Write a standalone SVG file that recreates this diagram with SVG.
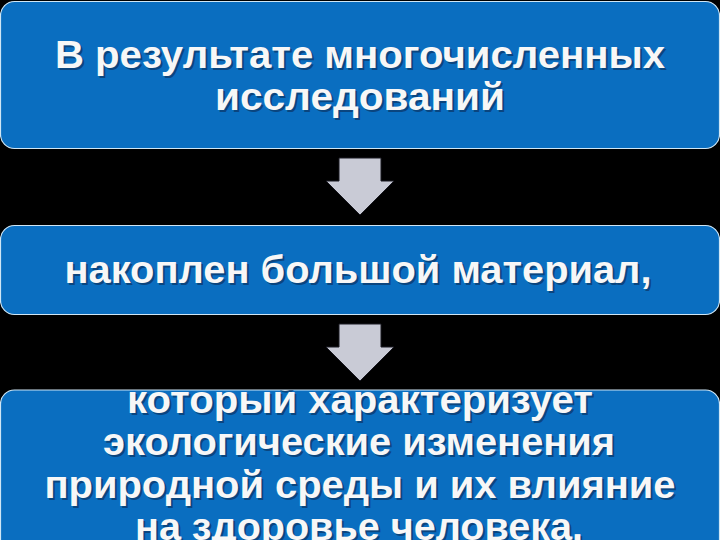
<svg xmlns="http://www.w3.org/2000/svg" width="720" height="540" viewBox="0 0 720 540">
<style>
.box{fill:#0a6ec0;stroke:#cfe6f5;stroke-width:1.2}
.t{font-family:"Liberation Sans",Arial,sans-serif;font-weight:bold;font-size:38px;fill:#f7f7f7;text-anchor:middle}
.sh{font-family:"Liberation Sans",Arial,sans-serif;font-weight:bold;font-size:38px;fill:#0a2a55;text-anchor:middle;opacity:0.6}
.arr{fill:#c9cbd6;stroke:#1a1a22;stroke-width:1}
</style>
<defs>
<clipPath id="c3"><rect x="0.5" y="390" width="719" height="170" rx="14"/></clipPath>
</defs>
<rect width="720" height="540" fill="#000"/>
<g id="node1">
<rect class="box" x="0.5" y="1.5" width="719" height="147" rx="14"/>
<text class="sh" x="362" y="70" textLength="610" lengthAdjust="spacingAndGlyphs">В результате многочисленных</text>
<text class="t" x="360" y="68" textLength="610" lengthAdjust="spacingAndGlyphs">В результате многочисленных</text>
<text class="sh" x="362" y="112" textLength="290" lengthAdjust="spacingAndGlyphs">исследований</text>
<text class="t" x="360" y="110" textLength="290" lengthAdjust="spacingAndGlyphs">исследований</text>
</g>
<g id="node2">
<rect class="box" x="0.5" y="225.5" width="719" height="89" rx="14"/>
<text class="sh" x="360" y="285" textLength="587" lengthAdjust="spacingAndGlyphs">накоплен большой материал,</text>
<text class="t" x="358" y="283" textLength="587" lengthAdjust="spacingAndGlyphs">накоплен большой материал,</text>
</g>
<g id="node3">
<rect class="box" x="0.5" y="390" width="719" height="170" rx="14"/>
<g clip-path="url(#c3)">
<text class="sh" x="362" y="415" textLength="466" lengthAdjust="spacingAndGlyphs">который характеризует</text>
<text class="t" x="360" y="413" textLength="466" lengthAdjust="spacingAndGlyphs">который характеризует</text>
<text class="sh" x="361" y="457" textLength="512" lengthAdjust="spacingAndGlyphs">экологические изменения</text>
<text class="t" x="359" y="455" textLength="512" lengthAdjust="spacingAndGlyphs">экологические изменения</text>
<text class="sh" x="362" y="500" textLength="631" lengthAdjust="spacingAndGlyphs">природной среды и их влияние</text>
<text class="t" x="360" y="498" textLength="631" lengthAdjust="spacingAndGlyphs">природной среды и их влияние</text>
<text class="sh" x="361" y="542" textLength="448" lengthAdjust="spacingAndGlyphs">на здоровье человека.</text>
<text class="t" x="359" y="540" textLength="448" lengthAdjust="spacingAndGlyphs">на здоровье человека.</text>
</g>
</g>
<g id="connectors">
<polygon class="arr" points="339,158 381,158 381,181 394,181 360,215 326,181 339,181"/>
<polygon class="arr" points="339,324 381,324 381,347 394,347 360,381 326,347 339,347"/>
</g>
</svg>
